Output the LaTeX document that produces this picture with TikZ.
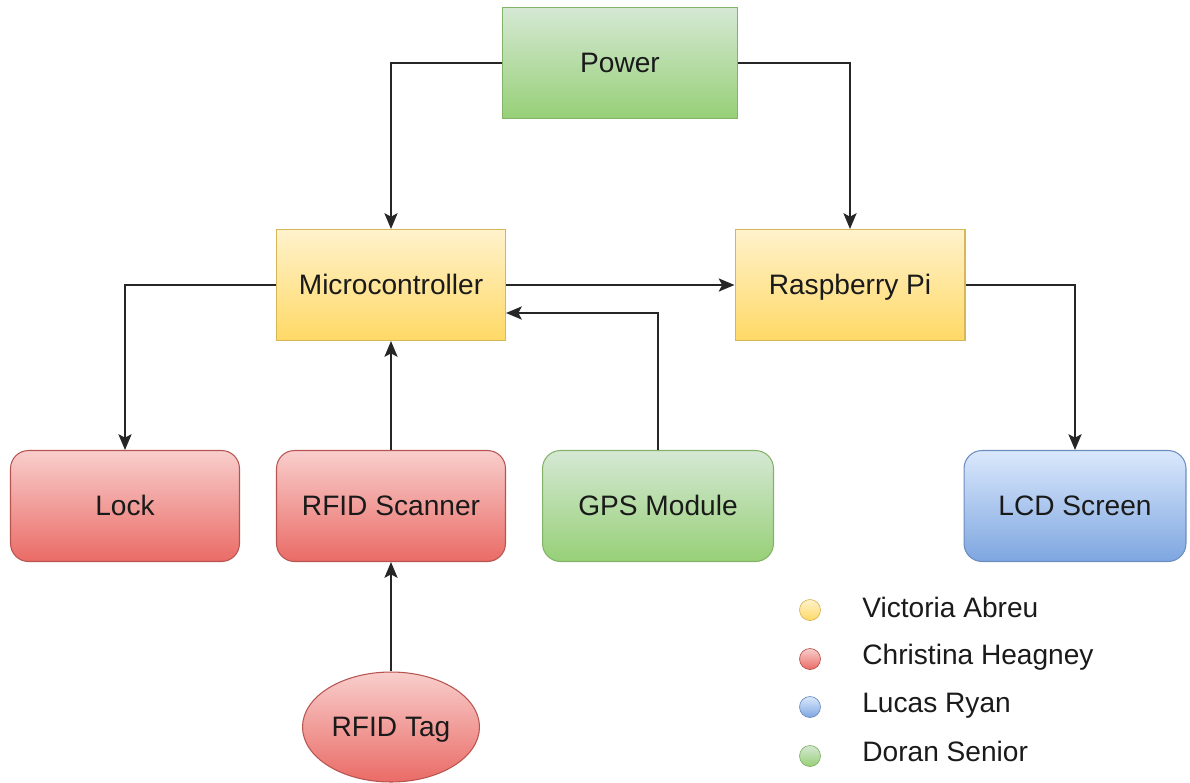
\documentclass[tikz,border=0pt]{standalone}
\usepackage{fontspec}
\setmainfont{Liberation Sans}
\usetikzlibrary{arrows.meta,shapes.geometric}

\definecolor{grnTop}{HTML}{D5E8D4}
\definecolor{grnBot}{HTML}{97D077}
\definecolor{grnLine}{HTML}{82B366}
\definecolor{ylwTop}{HTML}{FFF2CC}
\definecolor{ylwBot}{HTML}{FFD966}
\definecolor{ylwLine}{HTML}{D6B656}
\definecolor{redTop}{HTML}{F8CECC}
\definecolor{redBot}{HTML}{EA6B66}
\definecolor{redLine}{HTML}{B85450}
\definecolor{bluTop}{HTML}{DAE8FC}
\definecolor{bluBot}{HTML}{7EA6E0}
\definecolor{bluLine}{HTML}{6C8EBF}
\definecolor{txt}{HTML}{1A1A1A}

\tikzset{
  block/.style={draw,line width=0.6pt,minimum height=2.22cm,text=txt,
    text height=12pt,text depth=1pt,font=\fontsize{16}{19}\selectfont},
  grnblock/.style={block,top color=grnTop,bottom color=grnBot,draw=grnLine},
  ylwblock/.style={block,top color=ylwTop,bottom color=ylwBot,draw=ylwLine},
  redblock/.style={block,top color=redTop,bottom color=redBot,draw=redLine},
  blublock/.style={block,top color=bluTop,bottom color=bluBot,draw=bluLine},
  rnd/.style={rounded corners=0.36cm},
  arr/.style={draw=black!85,line width=1pt,-{Stealth[length=9pt,width=7.5pt,inset=2pt]}},
  dot/.style={circle,minimum size=0.42cm,inner sep=0pt,line width=0.4pt},
  who/.style={anchor=base west,inner sep=0pt,text=txt,font=\fontsize{16}{19}\selectfont}
}

\begin{document}
\begin{tikzpicture}[x=0.02cm,y=-0.02cm]
  \useasboundingbox (0,0) rectangle (1190,782);

  % blocks
  \node[grnblock,minimum width=4.7cm] (power) at (620,63) {Power};
  \node[ylwblock,minimum width=4.58cm] (micro) at (391,285) {Microcontroller};
  \node[ylwblock,minimum width=4.6cm] (rpi) at (850,285) {Raspberry Pi};
  \node[redblock,rnd,minimum width=4.58cm] (lock) at (125,506) {Lock};
  \node[redblock,rnd,minimum width=4.58cm] (scanner) at (391,506) {RFID Scanner};
  \node[grnblock,rnd,minimum width=4.62cm] (gps) at (658,506) {GPS Module};
  \node[blublock,rnd,minimum width=4.44cm] (lcd) at (1075,506) {LCD Screen};
  \node[redblock,ellipse,minimum width=3.54cm,minimum height=2.2cm,inner sep=0pt] (tag) at (391,727) {RFID Tag};

  \coordinate (gpsin) at (506,313);

  % connections
  \draw[arr] (power.west) -| (micro.north);
  \draw[arr] (power.east) -| (rpi.north);
  \draw[arr] (micro.east) -- (rpi.west);
  \draw[arr] (micro.west) -| (lock.north);
  \draw[arr] (scanner.north) -- (micro.south);
  \draw[arr] (gps.north) |- (gpsin);
  \draw[arr] (rpi.east) -| (lcd.north);
  \draw[arr] (tag.north) -- (scanner.south);

  % legend
  \node[dot,top color=ylwTop,bottom color=ylwBot,draw=ylwLine] (d1) at (810,610) {};
  \node[dot,top color=redTop,bottom color=redBot,draw=redLine] (d2) at (810,659) {};
  \node[dot,top color=bluTop,bottom color=bluBot,draw=bluLine] (d3) at (810,707) {};
  \node[dot,top color=grnTop,bottom color=grnBot,draw=grnLine] (d4) at (810,756) {};
  \node[who] (n1) at (862,617) {Victoria Abreu};
  \node[who] (n2) at (862,664) {Christina Heagney};
  \node[who] (n3) at (862,712) {Lucas Ryan};
  \node[who] (n4) at (862,761) {Doran Senior};
\end{tikzpicture}
\end{document}
